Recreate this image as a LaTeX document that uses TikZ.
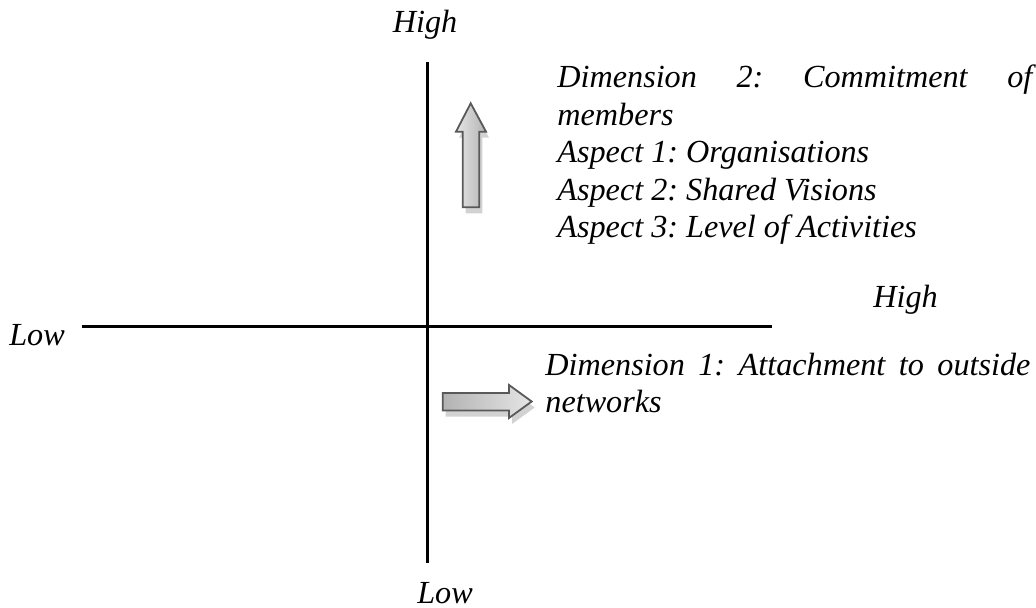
\documentclass[tikz,border=0pt]{standalone}
\usepackage{fontspec}
\setmainfont{LiberationSerif}[Extension=.ttf, UprightFont=*-Regular, BoldFont=*-Bold, ItalicFont=*-Italic, BoldItalicFont=*-BoldItalic]
\usetikzlibrary{positioning}
\usetikzlibrary{calc}

\tikzset{
lbl/.style={inner sep=0pt, anchor=base, font=\fontsize{16.1}{18.75}\selectfont\itshape\frenchspacing},
txtblock/.style={lbl, anchor=base west, align=justify},
axis/.style={line width=1.5pt},
arrowshadow/.style={fill=gray!35, transform canvas={shift={(3,6)}}},
blockarrow/.style={draw=gray!70!black, line width=0.9pt, line join=miter, preaction={arrowshadow}}
}

\begin{document}
\begin{tikzpicture}[x=0.5pt,y=-0.5pt]
\useasboundingbox (0,0) rectangle (1036,608);
\coordinate (vTop) at (427,62);
\coordinate (vBot) at (427,563);
\coordinate (hLeft) at (82,327);
\coordinate (hRight) at (772,327);

\node[lbl](highTop) at (425,33){High};
\node[lbl](lowBot) at (445,603){Low};
\node[lbl](lowLeft) at (37,345){Low};
\node[lbl](highRight) at (905.5,308){High};

\node[txtblock,text width=237.5pt](dimTwo) at (557,88){Dimension 2: Commitment of\linebreak members\\Aspect 1: Organisations\\Aspect 2: Shared Visions\\Aspect 3: Level of Activities};
\node[txtblock,text width=242.5pt](dimOne) at (545,375){Dimension 1: Attachment to outside\linebreak networks};

\path
(vTop) edge[axis] (vBot)
(hLeft) edge[axis] (hRight);

% block arrows
\draw[blockarrow, left color=gray!20, right color=gray!60]
(470.7,103.3) -- (486,131.7) -- (479.3,131.7) -- (479.3,207.3)
-- (462.7,207.3) -- (462.7,131.7) -- (456,131.7) -- cycle;
\draw[blockarrow, left color=gray!60, right color=gray!20]
(531.7,401.5) -- (509,418) -- (509,410.5) -- (442.7,410.5)
-- (442.7,393) -- (509,393) -- (509,385) -- cycle;
\end{tikzpicture}
\end{document}
